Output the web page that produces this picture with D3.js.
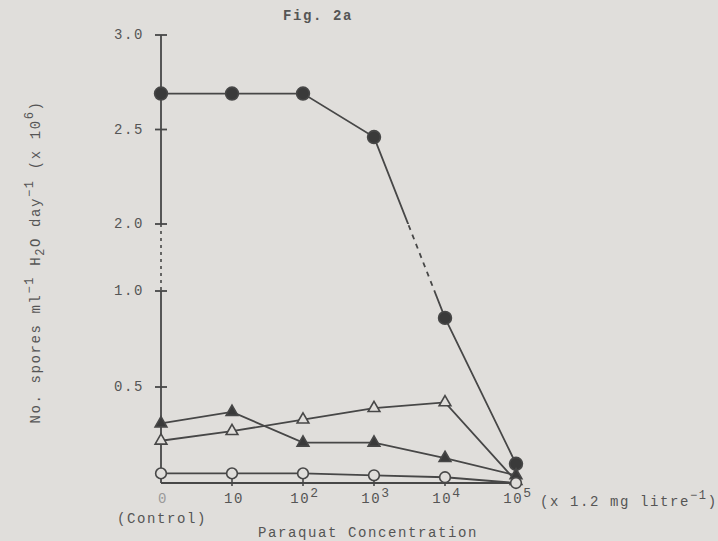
<!DOCTYPE html>
<html>
<head>
<meta charset="utf-8">
<script src="https://cdn.jsdelivr.net/npm/d3@7"></script>
<style>
    html, body { margin: 0; padding: 0; background: #e0dedb; }
    svg { display: block; }
    text { font-family: "Liberation Mono", "DejaVu Sans Mono", monospace; fill: #555; font-size: 14px; letter-spacing: 1.6px; }
</style>
</head>
<body>
<svg id="chart"></svg>
<script>
// Paraquat concentration (x 1.2 mg/litre), first one is the control
const concentrations = ['0', '10', '100', '1000', '10000', '100000'];
const tickBase = ['0', '10', '10', '10', '10', '10'];
const tickExp = ['', '', '2', '3', '4', '5'];
const yTicks = [0.5, 1.0, 2.0, 2.5, 3.0];

// No. spores ml-1 H2O day-1 (x 10^6)
const filledCircles = [2.69, 2.69, 2.69, 2.46, 0.86, 0.10];
const openTriangles = [0.22, 0.27, 0.33, 0.39, 0.42, 0.01];
const filledTriangles = [0.31, 0.37, 0.21, 0.21, 0.13, 0.04];
const openCircles = [0.05, 0.05, 0.05, 0.04, 0.03, 0.00];

const width = 718, height = 541;
const bg = '#e0dedb', ink = '#474747';

const svg = d3.select('#chart').attr('width', width).attr('height', height);

const x = d3.scalePoint().domain(concentrations).range([161, 516]);
// broken axis: 1.0 -> 2.0 is squeezed
const y = d3.scaleLinear().domain([0, 1, 2, 3]).range([483, 291, 224, 35]);

const defs = svg.append('defs');
defs.append('clipPath').attr('id', 'solid-clip')
    .call(c => {
        c.append('rect').attr('x', 0).attr('y', 0).attr('width', width).attr('height', y(2));
        c.append('rect').attr('x', 0).attr('y', y(1)).attr('width', width).attr('height', height - y(1));
    });
defs.append('clipPath').attr('id', 'gap-clip')
    .append('rect').attr('x', 0).attr('y', y(2)).attr('width', width).attr('height', y(1) - y(2));

const g = svg.append('g');

// y axis
const yAxisPath = `M${x('0')},${y(3)}V${y(0)}`;
g.append('path').attr('d', yAxisPath).attr('stroke', ink).attr('stroke-width', 1.8)
    .attr('fill', 'none').attr('clip-path', 'url(#solid-clip)');
g.append('path').attr('d', yAxisPath).attr('stroke', ink).attr('stroke-width', 1.6)
    .attr('stroke-dasharray', '3,4').attr('fill', 'none').attr('clip-path', 'url(#gap-clip)');

g.selectAll('.y-tick').data(yTicks).enter().append('line')
    .attr('class', 'y-tick')
    .attr('x1', x('0') - 6).attr('x2', x('0') + 6)
    .attr('y1', d => y(d)).attr('y2', d => y(d))
    .attr('stroke', ink).attr('stroke-width', 1.8);

g.selectAll('.y-label').data(yTicks).enter().append('text')
    .attr('class', 'y-label')
    .attr('x', 144).attr('y', d => y(d) + 4)
    .attr('text-anchor', 'end')
    .text(d => d.toFixed(1));

// x axis
g.append('line')
    .attr('x1', x('0')).attr('x2', x('100000'))
    .attr('y1', y(0)).attr('y2', y(0))
    .attr('stroke', ink).attr('stroke-width', 1.8);

g.selectAll('.x-tick').data(concentrations.slice(1)).enter().append('line')
    .attr('class', 'x-tick')
    .attr('x1', d => x(d)).attr('x2', d => x(d))
    .attr('y1', y(0) - 8).attr('y2', y(0) + 3)
    .attr('stroke', ink).attr('stroke-width', 1.6);

const xl = g.selectAll('.x-label').data(concentrations).enter().append('text')
    .attr('class', 'x-label')
    .attr('x', d => x(d) + 2).attr('y', 503)
    .attr('text-anchor', 'middle');
xl.append('tspan').text((d, i) => tickBase[i])
    .attr('fill', (d, i) => i === 0 ? '#9a9a9a' : null);
xl.append('tspan').attr('dy', -6).attr('font-size', 13).text((d, i) => tickExp[i]);

g.append('text').attr('x', 162).attr('y', 523).attr('text-anchor', 'middle').text('(Control)');

const unit = g.append('text').attr('x', 540).attr('y', 506);
unit.append('tspan').text('(x 1.2 mg litre');
unit.append('tspan').attr('dy', -7).attr('font-size', 12).text('−1');
unit.append('tspan').attr('dy', 7).text(')');

g.append('text').attr('x', 368).attr('y', 537).attr('text-anchor', 'middle')
    .text('Paraquat Concentration');

// title
g.append('text').attr('x', 318).attr('y', 20).attr('text-anchor', 'middle')
    .attr('font-weight', 'bold').attr('fill', '#666').text('Fig. 2a');

// y axis title
const yt = g.append('text')
    .attr('transform', 'translate(40,262) rotate(-90)')
    .attr('text-anchor', 'middle');
yt.append('tspan').text('No. spores ml');
yt.append('tspan').attr('dy', -7).attr('font-size', 12).text('−1');
yt.append('tspan').attr('dy', 7).text(' H');
yt.append('tspan').attr('dy', 4).attr('font-size', 12).text('2');
yt.append('tspan').attr('dy', -4).text('O day');
yt.append('tspan').attr('dy', -7).attr('font-size', 12).text('−1');
yt.append('tspan').attr('dy', 7).text(' (x 10');
yt.append('tspan').attr('dy', -7).attr('font-size', 12).text('6');
yt.append('tspan').attr('dy', 7).text(')');

// series
const series = [
    { name: 'filledCircles', values: filledCircles, shape: d3.symbolCircle, size: 130, fill: '#3a3a3a' },
    { name: 'openTriangles', values: openTriangles, shape: d3.symbolTriangle, size: 60, fill: bg },
    { name: 'filledTriangles', values: filledTriangles, shape: d3.symbolTriangle, size: 60, fill: '#3a3a3a' },
    { name: 'openCircles', values: openCircles, shape: d3.symbolCircle, size: 90, fill: bg }
];

const line = d3.line()
    .x((d, i) => x(concentrations[i]))
    .y(d => y(d));

series.forEach(s => {
    g.append('path').attr('d', line(s.values))
        .attr('fill', 'none').attr('stroke', ink).attr('stroke-width', 1.8)
        .attr('clip-path', 'url(#solid-clip)');
    g.append('path').attr('d', line(s.values))
        .attr('fill', 'none').attr('stroke', ink).attr('stroke-width', 1.8)
        .attr('stroke-dasharray', '5,5')
        .attr('clip-path', 'url(#gap-clip)');
});

series.forEach(s => {
    g.selectAll('.pt-' + s.name).data(s.values).enter().append('path')
        .attr('class', 'pt-' + s.name)
        .attr('transform', (d, i) => `translate(${x(concentrations[i])},${y(d)})`)
        .attr('d', d3.symbol().type(s.shape).size(s.size))
        .attr('fill', s.fill)
        .attr('stroke', ink)
        .attr('stroke-width', 1.6);
});
</script>
</body>
</html>
